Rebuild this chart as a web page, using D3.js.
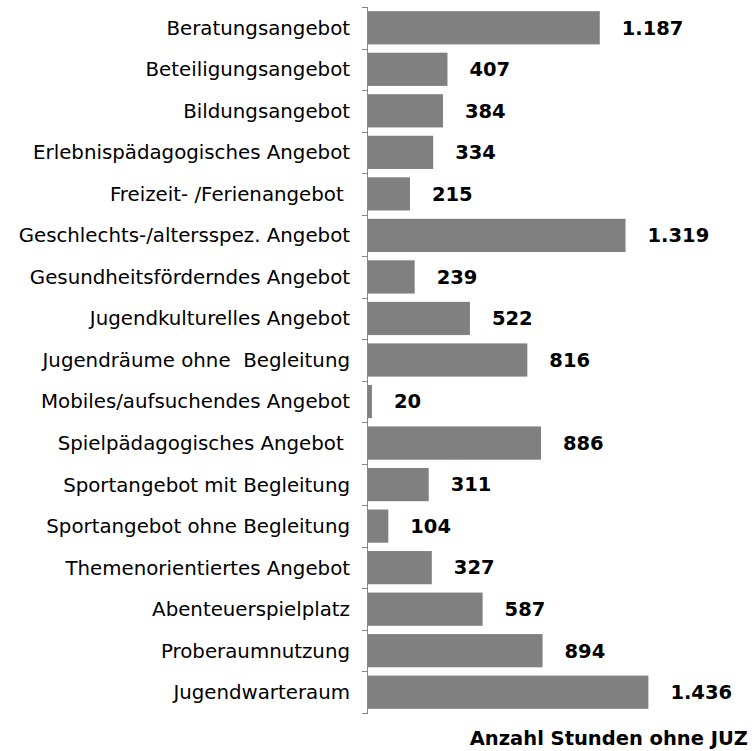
<!DOCTYPE html>
<html><head><meta charset="utf-8">
<script src="https://cdn.jsdelivr.net/npm/d3@7"></script>
<style>body{margin:0;background:#fff}</style>
</head><body>
<script>
const categories = ["Beratungsangebot","Beteiligungsangebot","Bildungsangebot","Erlebnispädagogisches Angebot","Freizeit- /Ferienangebot ","Geschlechts-/altersspez. Angebot","Gesundheitsförderndes Angebot","Jugendkulturelles Angebot","Jugendräume ohne  Begleitung","Mobiles/aufsuchendes Angebot","Spielpädagogisches Angebot ","Sportangebot mit Begleitung","Sportangebot ohne Begleitung","Themenorientiertes Angebot","Abenteuerspielplatz","Proberaumnutzung","Jugendwarteraum"];
const values = [1187,407,384,334,215,1319,239,522,816,20,886,311,104,327,587,894,1436];
const valueLabels = ["1.187","407","384","334","215","1.319","239","522","816","20","886","311","104","327","587","894","1.436"];
const axisTitle = "Anzahl Stunden ohne JUZ";

const W=752,H=751;
const svg=d3.select("body").append("svg").attr("width",W).attr("height",H);
const x0=368;
const x=d3.scaleLinear().domain([0,1600]).range([x0,x0+312.4]);
const y=d3.scaleBand().domain(categories).range([7,713]).paddingInner(0.2).paddingOuter(0.1);
const font="'DejaVu Sans', Verdana, sans-serif";

svg.selectAll("rect.bar").data(values).enter().append("rect")
  .attr("x",x(0)).attr("y",(d,i)=>y(categories[i]))
  .attr("width",d=>x(d)-x(0)).attr("height",y.bandwidth())
  .attr("fill","#808080");

const g=svg.append("g");
g.append("line").attr("x1",x0-0.5).attr("x2",x0-0.5).attr("y1",7).attr("y2",713).attr("stroke","#868686").attr("stroke-width",1);
const tickYs=d3.range(categories.length+1).map(i=>7+i*(706/categories.length));
g.selectAll("line.t").data(tickYs).enter().append("line")
  .attr("x1",x0-6).attr("x2",x0).attr("y1",d=>Math.round(d)+0.5).attr("y2",d=>Math.round(d)+0.5)
  .attr("stroke","#868686");

svg.selectAll("text.cat").data(categories).enter().append("text")
  .attr("x",350).attr("y",d=>y(d)+y.bandwidth()/2).attr("dy","0.35em")
  .attr("text-anchor","end").attr("font-family",font).attr("font-size",19.8).attr("fill","#000")
  .style("white-space","pre").attr("xml:space","preserve")
  .text(d=>d);

svg.selectAll("text.val").data(values).enter().append("text")
  .attr("x",d=>x(d)+22).attr("y",(d,i)=>y(categories[i])+y.bandwidth()/2).attr("dy","0.35em")
  .attr("font-family",font).attr("font-size",19.5).attr("font-weight","bold").attr("fill","#000")
  .text((d,i)=>valueLabels[i]);

svg.append("text").attr("x",748).attr("y",745).attr("text-anchor","end")
  .attr("font-family",font).attr("font-size",19.5).attr("font-weight","bold").text(axisTitle);
</script>
</body></html>
